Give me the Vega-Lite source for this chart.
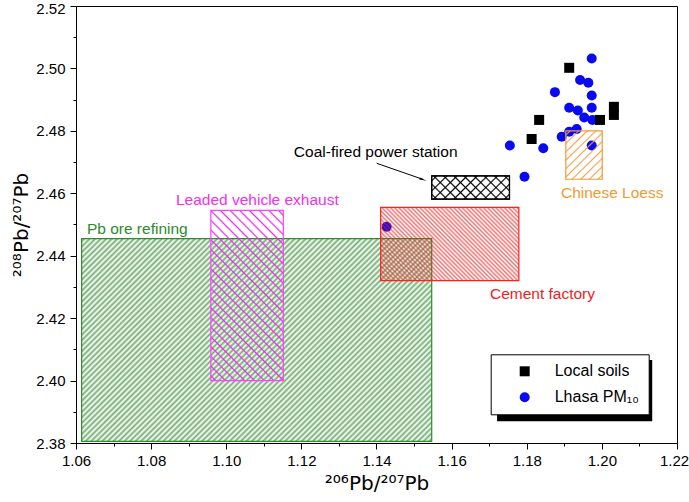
{
"$schema":"https://vega.github.io/schema/vega-lite/v6.json",
"width":601,"height":437,
"autosize":{"type":"none"},
"padding":{"left":76,"top":6,"right":12,"bottom":59},
"background":"white",
"config":{"font":"Liberation Sans","view":{"stroke":"black","strokeWidth":1},
"axis":{"grid":false,"domainColor":"black","tickColor":"black","labelColor":"black","titleColor":"black","labelFontSize":15,"titleFontSize":20,"titleFontWeight":"normal","labelFont":"Liberation Sans","titleFont":"DejaVu Sans"}},
"encoding":{
"x":{"field":"x","type":"quantitative","scale":{"domain":[1.06,1.22],"nice":false,"zero":false},
"axis":{"title":"²⁰⁶Pb/²⁰⁷Pb","values":[1.06,1.07,1.08,1.09,1.10,1.11,1.12,1.13,1.14,1.15,1.16,1.17,1.18,1.19,1.20,1.21,1.22],"labelExpr":"round(datum.value*100)%2==0 ? format(datum.value,'.2f') : ''","tickSize":{"condition":{"test":"round(datum.value*100)%2==0","value":6},"value":3},"labelOffset":{"condition":{"test":"datum.value>1.215","value":-3},"value":0},"labelPadding":4,"titlePadding":5,"labelFlush":false}},
"y":{"field":"y","type":"quantitative","scale":{"domain":[2.38,2.52],"nice":false,"zero":false},
"axis":{"title":"²⁰⁸Pb/²⁰⁷Pb","values":[2.38,2.39,2.40,2.41,2.42,2.43,2.44,2.45,2.46,2.47,2.48,2.49,2.50,2.51,2.52],"labelExpr":"round(datum.value*100)%2==0 ? format(datum.value,'.2f') : ''","tickSize":{"condition":{"test":"round(datum.value*100)%2==0","value":6},"value":3},"labelOffset":{"condition":{"test":"datum.value>2.515","value":2},"value":0},"labelPadding":5,"titlePadding":4,"labelFlush":false}}
},
"layer":[
{"data":{"values":[{"x":1.1721,"x2":1.2134,"y":2.3870,"y2":2.4066}]},
"mark":{"type":"rect","color":"black"},
"encoding":{"x2":{"field":"x2"},"y2":{"field":"y2"}}},
{"data":{"values":[
{"type":"Lhasa PM₁₀","x":1.1973,"y":2.5032},
{"type":"Lhasa PM₁₀","x":1.1942,"y":2.4963},
{"type":"Lhasa PM₁₀","x":1.1964,"y":2.4954},
{"type":"Lhasa PM₁₀","x":1.1875,"y":2.4924},
{"type":"Lhasa PM₁₀","x":1.1973,"y":2.4913},
{"type":"Lhasa PM₁₀","x":1.1913,"y":2.4874},
{"type":"Lhasa PM₁₀","x":1.1936,"y":2.4865},
{"type":"Lhasa PM₁₀","x":1.1973,"y":2.4874},
{"type":"Lhasa PM₁₀","x":1.1953,"y":2.4843},
{"type":"Lhasa PM₁₀","x":1.1975,"y":2.4835},
{"type":"Lhasa PM₁₀","x":1.1933,"y":2.4806},
{"type":"Lhasa PM₁₀","x":1.1913,"y":2.4797},
{"type":"Lhasa PM₁₀","x":1.1893,"y":2.4781},
{"type":"Lhasa PM₁₀","x":1.1755,"y":2.4753},
{"type":"Lhasa PM₁₀","x":1.1844,"y":2.4744},
{"type":"Lhasa PM₁₀","x":1.1973,"y":2.4753},
{"type":"Lhasa PM₁₀","x":1.1794,"y":2.4653},
{"type":"Lhasa PM₁₀","x":1.1427,"y":2.4493},
{"type":"Local soils","x":1.1913,"y":2.5002},
{"type":"Local soils","x":1.1833,"y":2.4835},
{"type":"Local soils","x":1.1813,"y":2.4774},
{"type":"Local soils","x":1.1995,"y":2.4835},
{"type":"Local soils","x":1.2032,"y":2.4877},
{"type":"Local soils","x":1.2032,"y":2.4851}
]},
"mark":{"type":"point","filled":true,"opacity":1,"size":100},
"encoding":{
"color":{"field":"type","type":"nominal","scale":{"domain":["Local soils","Lhasa PM₁₀"],"range":["black","#0a0af0"]},
"legend":{"title":null,"orient":"none","legendX":414.7,"legendY":348.3,"strokeColor":"black","fillColor":"white","padding":9,"symbolOffset":17,"labelOffset":22,"labelFontSize":16,"rowPadding":10,"labelColor":"black","symbolSize":100}},
"shape":{"field":"type","type":"nominal","scale":{"domain":["Local soils","Lhasa PM₁₀"],"range":["square","circle"]},
"legend":{"title":null,"orient":"none","legendX":414.7,"legendY":348.3,"strokeColor":"black","fillColor":"white","padding":9,"symbolOffset":17,"labelOffset":22,"labelFontSize":16,"rowPadding":10,"labelColor":"black","symbolSize":100}}
}},
{"data":{"values":[{"name":"Pb ore refining","x":1.0615,"x2":1.1547,"y":2.3805,"y2":2.4455}]},
"mark":{"type":"rect","stroke":"#2e8b2e","strokeWidth":1.2,"fill":{"gradient":"linear","x1":0,"y1":0,"x2":1.1815,"y2":0.6887,"stops":[
{"offset":0,"color":"#28822800"},{"offset":0.005,"color":"#288228a6"},
{"offset":0.01,"color":"#28822800"},{"offset":0.015,"color":"#288228a6"},
{"offset":0.02,"color":"#28822800"},{"offset":0.025,"color":"#288228a6"},
{"offset":0.03,"color":"#28822800"},{"offset":0.035,"color":"#288228a6"},
{"offset":0.04,"color":"#28822800"},{"offset":0.045,"color":"#288228a6"},
{"offset":0.05,"color":"#28822800"},{"offset":0.055,"color":"#288228a6"},
{"offset":0.06,"color":"#28822800"},{"offset":0.065,"color":"#288228a6"},
{"offset":0.07,"color":"#28822800"},{"offset":0.075,"color":"#288228a6"},
{"offset":0.08,"color":"#28822800"},{"offset":0.085,"color":"#288228a6"},
{"offset":0.09,"color":"#28822800"},{"offset":0.095,"color":"#288228a6"},
{"offset":0.10,"color":"#28822800"},{"offset":0.105,"color":"#288228a6"},
{"offset":0.11,"color":"#28822800"},{"offset":0.115,"color":"#288228a6"},
{"offset":0.12,"color":"#28822800"},{"offset":0.125,"color":"#288228a6"},
{"offset":0.13,"color":"#28822800"},{"offset":0.135,"color":"#288228a6"},
{"offset":0.14,"color":"#28822800"},{"offset":0.145,"color":"#288228a6"},
{"offset":0.15,"color":"#28822800"},{"offset":0.155,"color":"#288228a6"},
{"offset":0.16,"color":"#28822800"},{"offset":0.165,"color":"#288228a6"},
{"offset":0.17,"color":"#28822800"},{"offset":0.175,"color":"#288228a6"},
{"offset":0.18,"color":"#28822800"},{"offset":0.185,"color":"#288228a6"},
{"offset":0.19,"color":"#28822800"},{"offset":0.195,"color":"#288228a6"},
{"offset":0.20,"color":"#28822800"},{"offset":0.205,"color":"#288228a6"},
{"offset":0.21,"color":"#28822800"},{"offset":0.215,"color":"#288228a6"},
{"offset":0.22,"color":"#28822800"},{"offset":0.225,"color":"#288228a6"},
{"offset":0.23,"color":"#28822800"},{"offset":0.235,"color":"#288228a6"},
{"offset":0.24,"color":"#28822800"},{"offset":0.245,"color":"#288228a6"},
{"offset":0.25,"color":"#28822800"},{"offset":0.255,"color":"#288228a6"},
{"offset":0.26,"color":"#28822800"},{"offset":0.265,"color":"#288228a6"},
{"offset":0.27,"color":"#28822800"},{"offset":0.275,"color":"#288228a6"},
{"offset":0.28,"color":"#28822800"},{"offset":0.285,"color":"#288228a6"},
{"offset":0.29,"color":"#28822800"},{"offset":0.295,"color":"#288228a6"},
{"offset":0.30,"color":"#28822800"},{"offset":0.305,"color":"#288228a6"},
{"offset":0.31,"color":"#28822800"},{"offset":0.315,"color":"#288228a6"},
{"offset":0.32,"color":"#28822800"},{"offset":0.325,"color":"#288228a6"},
{"offset":0.33,"color":"#28822800"},{"offset":0.335,"color":"#288228a6"},
{"offset":0.34,"color":"#28822800"},{"offset":0.345,"color":"#288228a6"},
{"offset":0.35,"color":"#28822800"},{"offset":0.355,"color":"#288228a6"},
{"offset":0.36,"color":"#28822800"},{"offset":0.365,"color":"#288228a6"},
{"offset":0.37,"color":"#28822800"},{"offset":0.375,"color":"#288228a6"},
{"offset":0.38,"color":"#28822800"},{"offset":0.385,"color":"#288228a6"},
{"offset":0.39,"color":"#28822800"},{"offset":0.395,"color":"#288228a6"},
{"offset":0.40,"color":"#28822800"},{"offset":0.405,"color":"#288228a6"},
{"offset":0.41,"color":"#28822800"},{"offset":0.415,"color":"#288228a6"},
{"offset":0.42,"color":"#28822800"},{"offset":0.425,"color":"#288228a6"},
{"offset":0.43,"color":"#28822800"},{"offset":0.435,"color":"#288228a6"},
{"offset":0.44,"color":"#28822800"},{"offset":0.445,"color":"#288228a6"},
{"offset":0.45,"color":"#28822800"},{"offset":0.455,"color":"#288228a6"},
{"offset":0.46,"color":"#28822800"},{"offset":0.465,"color":"#288228a6"},
{"offset":0.47,"color":"#28822800"},{"offset":0.475,"color":"#288228a6"},
{"offset":0.48,"color":"#28822800"},{"offset":0.485,"color":"#288228a6"},
{"offset":0.49,"color":"#28822800"},{"offset":0.495,"color":"#288228a6"},
{"offset":0.50,"color":"#28822800"},{"offset":0.505,"color":"#288228a6"},
{"offset":0.51,"color":"#28822800"},{"offset":0.515,"color":"#288228a6"},
{"offset":0.52,"color":"#28822800"},{"offset":0.525,"color":"#288228a6"},
{"offset":0.53,"color":"#28822800"},{"offset":0.535,"color":"#288228a6"},
{"offset":0.54,"color":"#28822800"},{"offset":0.545,"color":"#288228a6"},
{"offset":0.55,"color":"#28822800"},{"offset":0.555,"color":"#288228a6"},
{"offset":0.56,"color":"#28822800"},{"offset":0.565,"color":"#288228a6"},
{"offset":0.57,"color":"#28822800"},{"offset":0.575,"color":"#288228a6"},
{"offset":0.58,"color":"#28822800"},{"offset":0.585,"color":"#288228a6"},
{"offset":0.59,"color":"#28822800"},{"offset":0.595,"color":"#288228a6"},
{"offset":0.60,"color":"#28822800"},{"offset":0.605,"color":"#288228a6"},
{"offset":0.61,"color":"#28822800"},{"offset":0.615,"color":"#288228a6"},
{"offset":0.62,"color":"#28822800"},{"offset":0.625,"color":"#288228a6"},
{"offset":0.63,"color":"#28822800"},{"offset":0.635,"color":"#288228a6"},
{"offset":0.64,"color":"#28822800"},{"offset":0.645,"color":"#288228a6"},
{"offset":0.65,"color":"#28822800"},{"offset":0.655,"color":"#288228a6"},
{"offset":0.66,"color":"#28822800"},{"offset":0.665,"color":"#288228a6"},
{"offset":0.67,"color":"#28822800"},{"offset":0.675,"color":"#288228a6"},
{"offset":0.68,"color":"#28822800"},{"offset":0.685,"color":"#288228a6"},
{"offset":0.69,"color":"#28822800"},{"offset":0.695,"color":"#288228a6"},
{"offset":0.70,"color":"#28822800"},{"offset":0.705,"color":"#288228a6"},
{"offset":0.71,"color":"#28822800"},{"offset":0.715,"color":"#288228a6"},
{"offset":0.72,"color":"#28822800"},{"offset":0.725,"color":"#288228a6"},
{"offset":0.73,"color":"#28822800"},{"offset":0.735,"color":"#288228a6"},
{"offset":0.74,"color":"#28822800"},{"offset":0.745,"color":"#288228a6"},
{"offset":0.75,"color":"#28822800"},{"offset":0.755,"color":"#288228a6"},
{"offset":0.76,"color":"#28822800"},{"offset":0.765,"color":"#288228a6"},
{"offset":0.77,"color":"#28822800"},{"offset":0.775,"color":"#288228a6"},
{"offset":0.78,"color":"#28822800"},{"offset":0.785,"color":"#288228a6"},
{"offset":0.79,"color":"#28822800"},{"offset":0.795,"color":"#288228a6"},
{"offset":0.80,"color":"#28822800"},{"offset":0.805,"color":"#288228a6"},
{"offset":0.81,"color":"#28822800"},{"offset":0.815,"color":"#288228a6"},
{"offset":0.82,"color":"#28822800"},{"offset":0.825,"color":"#288228a6"},
{"offset":0.83,"color":"#28822800"},{"offset":0.835,"color":"#288228a6"},
{"offset":0.84,"color":"#28822800"},{"offset":0.845,"color":"#288228a6"},
{"offset":0.85,"color":"#28822800"},{"offset":0.855,"color":"#288228a6"},
{"offset":0.86,"color":"#28822800"},{"offset":0.865,"color":"#288228a6"},
{"offset":0.87,"color":"#28822800"},{"offset":0.875,"color":"#288228a6"},
{"offset":0.88,"color":"#28822800"},{"offset":0.885,"color":"#288228a6"},
{"offset":0.89,"color":"#28822800"},{"offset":0.895,"color":"#288228a6"},
{"offset":0.90,"color":"#28822800"},{"offset":0.905,"color":"#288228a6"},
{"offset":0.91,"color":"#28822800"},{"offset":0.915,"color":"#288228a6"},
{"offset":0.92,"color":"#28822800"},{"offset":0.925,"color":"#288228a6"},
{"offset":0.93,"color":"#28822800"},{"offset":0.935,"color":"#288228a6"},
{"offset":0.94,"color":"#28822800"},{"offset":0.945,"color":"#288228a6"},
{"offset":0.95,"color":"#28822800"},{"offset":0.955,"color":"#288228a6"},
{"offset":0.96,"color":"#28822800"},{"offset":0.965,"color":"#288228a6"},
{"offset":0.97,"color":"#28822800"},{"offset":0.975,"color":"#288228a6"},
{"offset":0.98,"color":"#28822800"},{"offset":0.985,"color":"#288228a6"},
{"offset":0.99,"color":"#28822800"},{"offset":0.995,"color":"#288228a6"},
{"offset":1,"color":"#28822800"}]}},
"encoding":{"x2":{"field":"x2"},"y2":{"field":"y2"}}},
{"data":{"values":[{"name":"Leaded vehicle exhaust","x":1.0959,"x2":1.1152,"y":2.400,"y2":2.4545}]},
"mark":{"type":"rect","stroke":"#ff40ff","strokeWidth":1.2,"fill":{"gradient":"linear","x1":0,"y1":1,"x2":0.5155,"y2":-0.207,"stops":[
{"offset":0.013,"color":"#f028f000"},{"offset":0.02,"color":"#f028f0ff"},{"offset":0.027,"color":"#f028f000"},
{"offset":0.053,"color":"#f028f000"},{"offset":0.06,"color":"#f028f0ff"},{"offset":0.067,"color":"#f028f000"},
{"offset":0.093,"color":"#f028f000"},{"offset":0.10,"color":"#f028f0ff"},{"offset":0.107,"color":"#f028f000"},
{"offset":0.133,"color":"#f028f000"},{"offset":0.14,"color":"#f028f0ff"},{"offset":0.147,"color":"#f028f000"},
{"offset":0.173,"color":"#f028f000"},{"offset":0.18,"color":"#f028f0ff"},{"offset":0.187,"color":"#f028f000"},
{"offset":0.213,"color":"#f028f000"},{"offset":0.22,"color":"#f028f0ff"},{"offset":0.227,"color":"#f028f000"},
{"offset":0.253,"color":"#f028f000"},{"offset":0.26,"color":"#f028f0ff"},{"offset":0.267,"color":"#f028f000"},
{"offset":0.293,"color":"#f028f000"},{"offset":0.30,"color":"#f028f0ff"},{"offset":0.307,"color":"#f028f000"},
{"offset":0.333,"color":"#f028f000"},{"offset":0.34,"color":"#f028f0ff"},{"offset":0.347,"color":"#f028f000"},
{"offset":0.373,"color":"#f028f000"},{"offset":0.38,"color":"#f028f0ff"},{"offset":0.387,"color":"#f028f000"},
{"offset":0.413,"color":"#f028f000"},{"offset":0.42,"color":"#f028f0ff"},{"offset":0.427,"color":"#f028f000"},
{"offset":0.453,"color":"#f028f000"},{"offset":0.46,"color":"#f028f0ff"},{"offset":0.467,"color":"#f028f000"},
{"offset":0.493,"color":"#f028f000"},{"offset":0.50,"color":"#f028f0ff"},{"offset":0.507,"color":"#f028f000"},
{"offset":0.533,"color":"#f028f000"},{"offset":0.54,"color":"#f028f0ff"},{"offset":0.547,"color":"#f028f000"},
{"offset":0.573,"color":"#f028f000"},{"offset":0.58,"color":"#f028f0ff"},{"offset":0.587,"color":"#f028f000"},
{"offset":0.613,"color":"#f028f000"},{"offset":0.62,"color":"#f028f0ff"},{"offset":0.627,"color":"#f028f000"},
{"offset":0.653,"color":"#f028f000"},{"offset":0.66,"color":"#f028f0ff"},{"offset":0.667,"color":"#f028f000"},
{"offset":0.693,"color":"#f028f000"},{"offset":0.70,"color":"#f028f0ff"},{"offset":0.707,"color":"#f028f000"},
{"offset":0.733,"color":"#f028f000"},{"offset":0.74,"color":"#f028f0ff"},{"offset":0.747,"color":"#f028f000"},
{"offset":0.773,"color":"#f028f000"},{"offset":0.78,"color":"#f028f0ff"},{"offset":0.787,"color":"#f028f000"},
{"offset":0.813,"color":"#f028f000"},{"offset":0.82,"color":"#f028f0ff"},{"offset":0.827,"color":"#f028f000"},
{"offset":0.853,"color":"#f028f000"},{"offset":0.86,"color":"#f028f0ff"},{"offset":0.867,"color":"#f028f000"},
{"offset":0.893,"color":"#f028f000"},{"offset":0.90,"color":"#f028f0ff"},{"offset":0.907,"color":"#f028f000"},
{"offset":0.933,"color":"#f028f000"},{"offset":0.94,"color":"#f028f0ff"},{"offset":0.947,"color":"#f028f000"},
{"offset":0.973,"color":"#f028f000"},{"offset":0.98,"color":"#f028f0ff"},{"offset":0.987,"color":"#f028f000"}]}},
"encoding":{"x2":{"field":"x2"},"y2":{"field":"y2"}}},
{"data":{"values":[{"name":"Cement factory","x":1.1411,"x2":1.1779,"y":2.432,"y2":2.4555}]},
"mark":{"type":"rect","stroke":"#ff2020","strokeWidth":1.2,"fill":{"gradient":"linear","x1":0,"y1":1,"x2":1.1949,"y2":0.3693,"stops":[
{"offset":0,"color":"#e6282800"},{"offset":0.01,"color":"#e62828a6"},{"offset":0.02,"color":"#e6282800"},{"offset":0.03,"color":"#e62828a6"},
{"offset":0.04,"color":"#e6282800"},{"offset":0.05,"color":"#e62828a6"},{"offset":0.06,"color":"#e6282800"},{"offset":0.07,"color":"#e62828a6"},
{"offset":0.08,"color":"#e6282800"},{"offset":0.09,"color":"#e62828a6"},{"offset":0.10,"color":"#e6282800"},{"offset":0.11,"color":"#e62828a6"},
{"offset":0.12,"color":"#e6282800"},{"offset":0.13,"color":"#e62828a6"},{"offset":0.14,"color":"#e6282800"},{"offset":0.15,"color":"#e62828a6"},
{"offset":0.16,"color":"#e6282800"},{"offset":0.17,"color":"#e62828a6"},{"offset":0.18,"color":"#e6282800"},{"offset":0.19,"color":"#e62828a6"},
{"offset":0.20,"color":"#e6282800"},{"offset":0.21,"color":"#e62828a6"},{"offset":0.22,"color":"#e6282800"},{"offset":0.23,"color":"#e62828a6"},
{"offset":0.24,"color":"#e6282800"},{"offset":0.25,"color":"#e62828a6"},{"offset":0.26,"color":"#e6282800"},{"offset":0.27,"color":"#e62828a6"},
{"offset":0.28,"color":"#e6282800"},{"offset":0.29,"color":"#e62828a6"},{"offset":0.30,"color":"#e6282800"},{"offset":0.31,"color":"#e62828a6"},
{"offset":0.32,"color":"#e6282800"},{"offset":0.33,"color":"#e62828a6"},{"offset":0.34,"color":"#e6282800"},{"offset":0.35,"color":"#e62828a6"},
{"offset":0.36,"color":"#e6282800"},{"offset":0.37,"color":"#e62828a6"},{"offset":0.38,"color":"#e6282800"},{"offset":0.39,"color":"#e62828a6"},
{"offset":0.40,"color":"#e6282800"},{"offset":0.41,"color":"#e62828a6"},{"offset":0.42,"color":"#e6282800"},{"offset":0.43,"color":"#e62828a6"},
{"offset":0.44,"color":"#e6282800"},{"offset":0.45,"color":"#e62828a6"},{"offset":0.46,"color":"#e6282800"},{"offset":0.47,"color":"#e62828a6"},
{"offset":0.48,"color":"#e6282800"},{"offset":0.49,"color":"#e62828a6"},{"offset":0.50,"color":"#e6282800"},{"offset":0.51,"color":"#e62828a6"},
{"offset":0.52,"color":"#e6282800"},{"offset":0.53,"color":"#e62828a6"},{"offset":0.54,"color":"#e6282800"},{"offset":0.55,"color":"#e62828a6"},
{"offset":0.56,"color":"#e6282800"},{"offset":0.57,"color":"#e62828a6"},{"offset":0.58,"color":"#e6282800"},{"offset":0.59,"color":"#e62828a6"},
{"offset":0.60,"color":"#e6282800"},{"offset":0.61,"color":"#e62828a6"},{"offset":0.62,"color":"#e6282800"},{"offset":0.63,"color":"#e62828a6"},
{"offset":0.64,"color":"#e6282800"},{"offset":0.65,"color":"#e62828a6"},{"offset":0.66,"color":"#e6282800"},{"offset":0.67,"color":"#e62828a6"},
{"offset":0.68,"color":"#e6282800"},{"offset":0.69,"color":"#e62828a6"},{"offset":0.70,"color":"#e6282800"},{"offset":0.71,"color":"#e62828a6"},
{"offset":0.72,"color":"#e6282800"},{"offset":0.73,"color":"#e62828a6"},{"offset":0.74,"color":"#e6282800"},{"offset":0.75,"color":"#e62828a6"},
{"offset":0.76,"color":"#e6282800"},{"offset":0.77,"color":"#e62828a6"},{"offset":0.78,"color":"#e6282800"},{"offset":0.79,"color":"#e62828a6"},
{"offset":0.80,"color":"#e6282800"},{"offset":0.81,"color":"#e62828a6"},{"offset":0.82,"color":"#e6282800"},{"offset":0.83,"color":"#e62828a6"},
{"offset":0.84,"color":"#e6282800"},{"offset":0.85,"color":"#e62828a6"},{"offset":0.86,"color":"#e6282800"},{"offset":0.87,"color":"#e62828a6"},
{"offset":0.88,"color":"#e6282800"},{"offset":0.89,"color":"#e62828a6"},{"offset":0.90,"color":"#e6282800"},{"offset":0.91,"color":"#e62828a6"},
{"offset":0.92,"color":"#e6282800"},{"offset":0.93,"color":"#e62828a6"},{"offset":0.94,"color":"#e6282800"},{"offset":0.95,"color":"#e62828a6"},
{"offset":0.96,"color":"#e6282800"},{"offset":0.97,"color":"#e62828a6"},{"offset":0.98,"color":"#e6282800"},{"offset":0.99,"color":"#e62828a6"},
{"offset":1,"color":"#e6282800"}]}},
"encoding":{"x2":{"field":"x2"},"y2":{"field":"y2"}}},
{"data":{"values":[{"name":"Coal-fired power station","x":1.1547,"x2":1.1754,"y":2.4581,"y2":2.4656}]},
"mark":{"type":"rect","stroke":"black","strokeWidth":1.2,"fill":{"gradient":"linear","x1":0,"y1":0,"x2":1.1938,"y2":0.363,"stops":[
{"offset":0.034,"color":"#00000000"},{"offset":0.05,"color":"#000000"},{"offset":0.066,"color":"#00000000"},
{"offset":0.134,"color":"#00000000"},{"offset":0.15,"color":"#000000"},{"offset":0.166,"color":"#00000000"},
{"offset":0.234,"color":"#00000000"},{"offset":0.25,"color":"#000000"},{"offset":0.266,"color":"#00000000"},
{"offset":0.334,"color":"#00000000"},{"offset":0.35,"color":"#000000"},{"offset":0.366,"color":"#00000000"},
{"offset":0.434,"color":"#00000000"},{"offset":0.45,"color":"#000000"},{"offset":0.466,"color":"#00000000"},
{"offset":0.534,"color":"#00000000"},{"offset":0.55,"color":"#000000"},{"offset":0.566,"color":"#00000000"},
{"offset":0.634,"color":"#00000000"},{"offset":0.65,"color":"#000000"},{"offset":0.666,"color":"#00000000"},
{"offset":0.734,"color":"#00000000"},{"offset":0.75,"color":"#000000"},{"offset":0.766,"color":"#00000000"},
{"offset":0.834,"color":"#00000000"},{"offset":0.85,"color":"#000000"},{"offset":0.866,"color":"#00000000"},
{"offset":0.934,"color":"#00000000"},{"offset":0.95,"color":"#000000"},{"offset":0.966,"color":"#00000000"}]}},
"encoding":{"x2":{"field":"x2"},"y2":{"field":"y2"}}},
{"data":{"values":[{"name":"Coal-fired power station","x":1.1547,"x2":1.1754,"y":2.4581,"y2":2.4656}]},
"mark":{"type":"rect","stroke":"black","strokeWidth":1.2,"fill":{"gradient":"linear","x1":0,"y1":1,"x2":1.1938,"y2":0.637,"stops":[
{"offset":0.034,"color":"#00000000"},{"offset":0.05,"color":"#000000"},{"offset":0.066,"color":"#00000000"},
{"offset":0.134,"color":"#00000000"},{"offset":0.15,"color":"#000000"},{"offset":0.166,"color":"#00000000"},
{"offset":0.234,"color":"#00000000"},{"offset":0.25,"color":"#000000"},{"offset":0.266,"color":"#00000000"},
{"offset":0.334,"color":"#00000000"},{"offset":0.35,"color":"#000000"},{"offset":0.366,"color":"#00000000"},
{"offset":0.434,"color":"#00000000"},{"offset":0.45,"color":"#000000"},{"offset":0.466,"color":"#00000000"},
{"offset":0.534,"color":"#00000000"},{"offset":0.55,"color":"#000000"},{"offset":0.566,"color":"#00000000"},
{"offset":0.634,"color":"#00000000"},{"offset":0.65,"color":"#000000"},{"offset":0.666,"color":"#00000000"},
{"offset":0.734,"color":"#00000000"},{"offset":0.75,"color":"#000000"},{"offset":0.766,"color":"#00000000"},
{"offset":0.834,"color":"#00000000"},{"offset":0.85,"color":"#000000"},{"offset":0.866,"color":"#00000000"},
{"offset":0.934,"color":"#00000000"},{"offset":0.95,"color":"#000000"},{"offset":0.966,"color":"#00000000"}]}},
"encoding":{"x2":{"field":"x2"},"y2":{"field":"y2"}}},
{"data":{"values":[{"name":"Chinese Loess","x":1.1904,"x2":1.2001,"y":2.4645,"y2":2.480}]},
"mark":{"type":"rect","stroke":"#f39a30","strokeWidth":1.2,"fill":{"gradient":"linear","x1":0,"y1":0,"x2":0.829,"y2":1.1259,"stops":[
{"offset":0.032,"color":"#f0963c00"},{"offset":0.05,"color":"#f0963ce6"},{"offset":0.068,"color":"#f0963c00"},
{"offset":0.132,"color":"#f0963c00"},{"offset":0.15,"color":"#f0963ce6"},{"offset":0.168,"color":"#f0963c00"},
{"offset":0.232,"color":"#f0963c00"},{"offset":0.25,"color":"#f0963ce6"},{"offset":0.268,"color":"#f0963c00"},
{"offset":0.332,"color":"#f0963c00"},{"offset":0.35,"color":"#f0963ce6"},{"offset":0.368,"color":"#f0963c00"},
{"offset":0.432,"color":"#f0963c00"},{"offset":0.45,"color":"#f0963ce6"},{"offset":0.468,"color":"#f0963c00"},
{"offset":0.532,"color":"#f0963c00"},{"offset":0.55,"color":"#f0963ce6"},{"offset":0.568,"color":"#f0963c00"},
{"offset":0.632,"color":"#f0963c00"},{"offset":0.65,"color":"#f0963ce6"},{"offset":0.668,"color":"#f0963c00"},
{"offset":0.732,"color":"#f0963c00"},{"offset":0.75,"color":"#f0963ce6"},{"offset":0.768,"color":"#f0963c00"},
{"offset":0.832,"color":"#f0963c00"},{"offset":0.85,"color":"#f0963ce6"},{"offset":0.868,"color":"#f0963c00"},
{"offset":0.932,"color":"#f0963c00"},{"offset":0.95,"color":"#f0963ce6"},{"offset":0.968,"color":"#f0963c00"}]}},
"encoding":{"x2":{"field":"x2"},"y2":{"field":"y2"}}},
{"data":{"values":[{"label":"Pb ore refining","x":1.0629,"y":2.4486}]},
"mark":{"type":"text","align":"left","baseline":"middle","fontSize":15.5,"color":"#2e8b2e"},
"encoding":{"text":{"field":"label"}}},
{"data":{"values":[{"label":"Leaded vehicle exhaust","x":1.0866,"y":2.4578}]},
"mark":{"type":"text","align":"left","baseline":"middle","fontSize":15.5,"color":"#f030f0"},
"encoding":{"text":{"field":"label"}}},
{"data":{"values":[{"label":"Coal-fired power station","x":1.1180,"y":2.4732}]},
"mark":{"type":"text","align":"left","baseline":"middle","fontSize":15.5,"color":"black"},
"encoding":{"text":{"field":"label"}}},
{"data":{"values":[{"label":"Cement factory","x":1.1702,"y":2.4277}]},
"mark":{"type":"text","align":"left","baseline":"middle","fontSize":15.5,"color":"#ee1c24"},
"encoding":{"text":{"field":"label"}}},
{"data":{"values":[{"label":"Chinese Loess","x":1.1891,"y":2.4601}]},
"mark":{"type":"text","align":"left","baseline":"middle","fontSize":15.5,"color":"#f39a30"},
"encoding":{"text":{"field":"label"}}},
{"data":{"values":[{"x":1.14005,"y":2.46961,"x2":1.1524,"y2":2.46445}]},
"mark":{"type":"rule","color":"black","strokeWidth":1},
"encoding":{"x2":{"field":"x2"},"y2":{"field":"y2"}}},
{"data":{"values":[{"x":1.1521,"y":2.4645}]},
"mark":{"type":"point","shape":"wedge","filled":true,"color":"black","size":70,"angle":109,"opacity":1},
"encoding":{}}
]
}
